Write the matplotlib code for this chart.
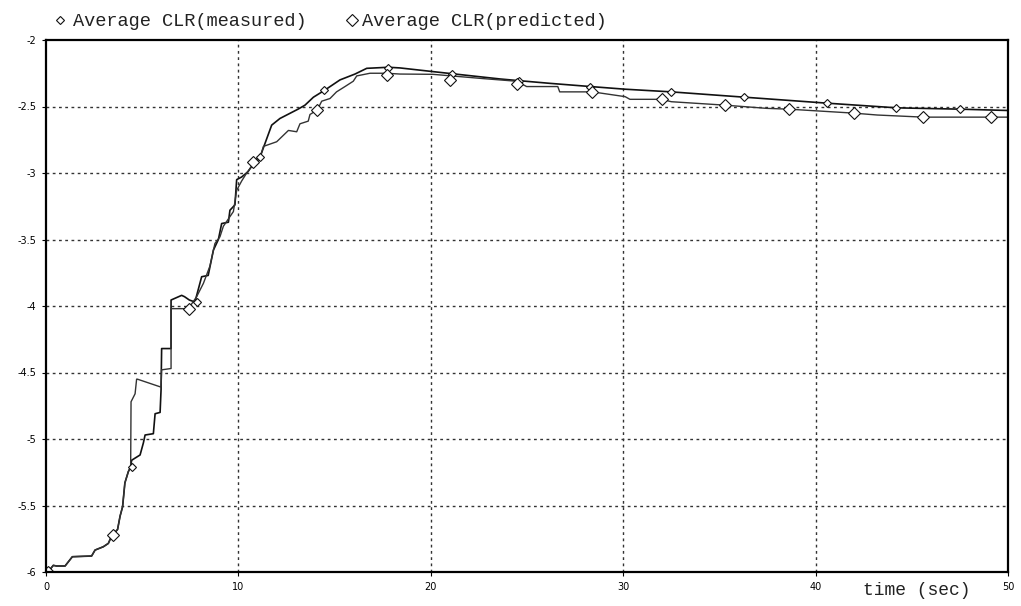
import matplotlib
matplotlib.use('Agg')
import matplotlib.pyplot as plt

# shared start of both curves
t_start = [0.1, 0.38, 0.55, 0.99, 1.37, 2.37, 2.55, 2.98, 3.24, 3.41, 3.72, 3.85, 3.98, 4.1, 4.28, 4.4]
v_start = [-6.0, -5.95, -5.955, -5.955, -5.885, -5.88, -5.835, -5.81, -5.785, -5.73, -5.68, -5.58, -5.51, -5.33, -5.245, -5.21]

# measured curve
t_meas = t_start + [4.45, 4.89, 5.06, 5.15, 5.58, 5.67, 5.93, 5.98, 6.01, 6.5, 6.5, 7.05, 7.2, 7.45, 7.74,
                    8.09, 8.43, 8.7, 8.96, 9.13, 9.48, 9.56, 9.82, 9.91, 10.17, 10.5, 10.78, 11.2, 11.73,
                    12.16, 13.1, 13.46, 13.9, 14.5, 15.28, 16.06, 16.67, 17.8, 18.4, 20.13, 23.6, 24.6,
                    26.2, 28.3, 30.1, 32.5, 36.3, 40.6, 44.2, 47.5, 50.0]
v_meas = v_start + [-5.16, -5.12, -5.03, -4.97, -4.96, -4.81, -4.80, -4.63, -4.32, -4.32, -3.955, -3.92, -3.93, -3.955, -3.97,
                    -3.78, -3.77, -3.58, -3.50, -3.38, -3.37, -3.28, -3.24, -3.05, -3.03, -2.99, -2.93, -2.85, -2.64,
                    -2.59, -2.52, -2.49, -2.43, -2.376, -2.30, -2.256, -2.213, -2.205, -2.21, -2.238, -2.293, -2.306,
                    -2.326, -2.35, -2.37, -2.39, -2.43, -2.475, -2.51, -2.52, -2.53]

# predicted curve
t_pred = t_start + [4.42, 4.63, 4.71, 4.75, 5.98, 6.01, 6.5, 6.5, 7.4, 7.83, 8.18, 8.52, 8.78, 9.04, 9.22,
                    9.74, 9.91, 10.17, 10.43, 10.69, 11.12, 11.3, 11.99, 12.6, 13.03, 13.2, 13.63, 13.72,
                    14.1, 14.33, 14.76, 15.1, 15.54, 15.97, 16.15, 16.84, 17.7, 18.4, 20.1, 22.7, 24.46,
                    24.98, 26.6, 26.7, 28.4, 30.1, 30.35, 32.0, 32.5, 35.3, 37.46, 38.6, 42.0, 43.2, 45.6, 50.0]
v_pred = v_start + [-4.72, -4.66, -4.55, -4.55, -4.61, -4.48, -4.47, -4.02, -4.02, -3.93, -3.83, -3.70, -3.53, -3.48, -3.40,
                    -3.29, -3.13, -3.06, -3.00, -2.95, -2.89, -2.80, -2.765, -2.68, -2.69, -2.63, -2.61, -2.56,
                    -2.526, -2.46, -2.44, -2.39, -2.35, -2.31, -2.27, -2.25, -2.25, -2.256, -2.258, -2.29, -2.31,
                    -2.35, -2.35, -2.39, -2.39, -2.426, -2.446, -2.446, -2.464, -2.49, -2.514, -2.52, -2.55, -2.564, -2.58, -2.58]

# marker points
mk_meas_t = [0.15, 4.45, 7.83, 11.1, 14.45, 17.8, 21.1, 24.6, 28.3, 32.5, 36.3, 40.6, 44.2, 47.5]
mk_meas_v = [-6.0, -5.21, -3.97, -2.88, -2.376, -2.21, -2.255, -2.306, -2.35, -2.39, -2.43, -2.475, -2.51, -2.52]
mk_pred_t = [0.1, 3.5, 7.43, 10.74, 14.07, 17.7, 21.0, 24.5, 28.4, 32.0, 35.3, 38.6, 42.0, 45.6, 49.1]
mk_pred_v = [-6.0, -5.72, -4.02, -2.92, -2.526, -2.26, -2.30, -2.33, -2.39, -2.446, -2.49, -2.52, -2.55, -2.58, -2.58]

xticks = [0, 10, 20, 30, 40, 50]
yticks = [-2, -2.5, -3, -3.5, -4, -4.5, -5, -5.5, -6]
ytick_labels = ['-2', '-2.5', '-3', '-3.5', '-4', '-4.5', '-5', '-5.5', '-6']

W, H = 1021, 606
fig = plt.figure(figsize=(W / 100, H / 100), dpi=100)
ax = fig.add_axes([46 / W, 34 / H, 962 / W, 532 / H])

ax.plot(t_meas, v_meas, color='#111111', lw=1.2)
ax.plot(t_pred, v_pred, color='#333333', lw=1.0)
ax.plot(mk_meas_t, mk_meas_v, ls='none', marker='D', ms=4, mfc='white', mec='#111111', mew=0.8)
ax.plot(mk_pred_t, mk_pred_v, ls='none', marker='D', ms=6.5, mfc='white', mec='#111111', mew=0.8)

ax.set_xlim(0, 50)
ax.set_ylim(-6, -2)
ax.set_xticks(xticks)
ax.set_yticks(yticks)
ax.set_yticklabels(ytick_labels)
ax.tick_params(labelsize=7, length=3, width=0.8, pad=4)
for s in ax.spines.values():
    s.set_linewidth(1.6)

# dotted grid
for x in xticks[1:-1]:
    ax.axvline(x, color='#333333', lw=1, ls=(0, (2, 2.5)), zorder=0)
for y in yticks[1:-1]:
    ax.axhline(y, color='#333333', lw=1, ls=(0, (2, 2.5)), zorder=0)

# legend drawn by hand at the top
mono = 'Liberation Mono'
fig.text(73 / W, 1 - 25.5 / H, 'Average CLR(measured)', family=mono, fontsize=13.4,
         color='#222222', va='baseline')
fig.text(362 / W, 1 - 25.5 / H, 'Average CLR(predicted)', family=mono, fontsize=13.4,
         color='#222222', va='baseline')
ax.plot([60 / W], [1 - 20 / H], transform=fig.transFigure, clip_on=False, marker='D', ms=4,
        mfc='white', mec='#111111', mew=0.8)
ax.plot([352 / W], [1 - 20 / H], transform=fig.transFigure, clip_on=False, marker='D', ms=6.5,
        mfc='white', mec='#111111', mew=0.8)

fig.text(863 / W, 1 - 595 / H, 'time (sec)', family=mono, fontsize=13, color='#222222', va='baseline')

plt.savefig('out.png', dpi=100)
